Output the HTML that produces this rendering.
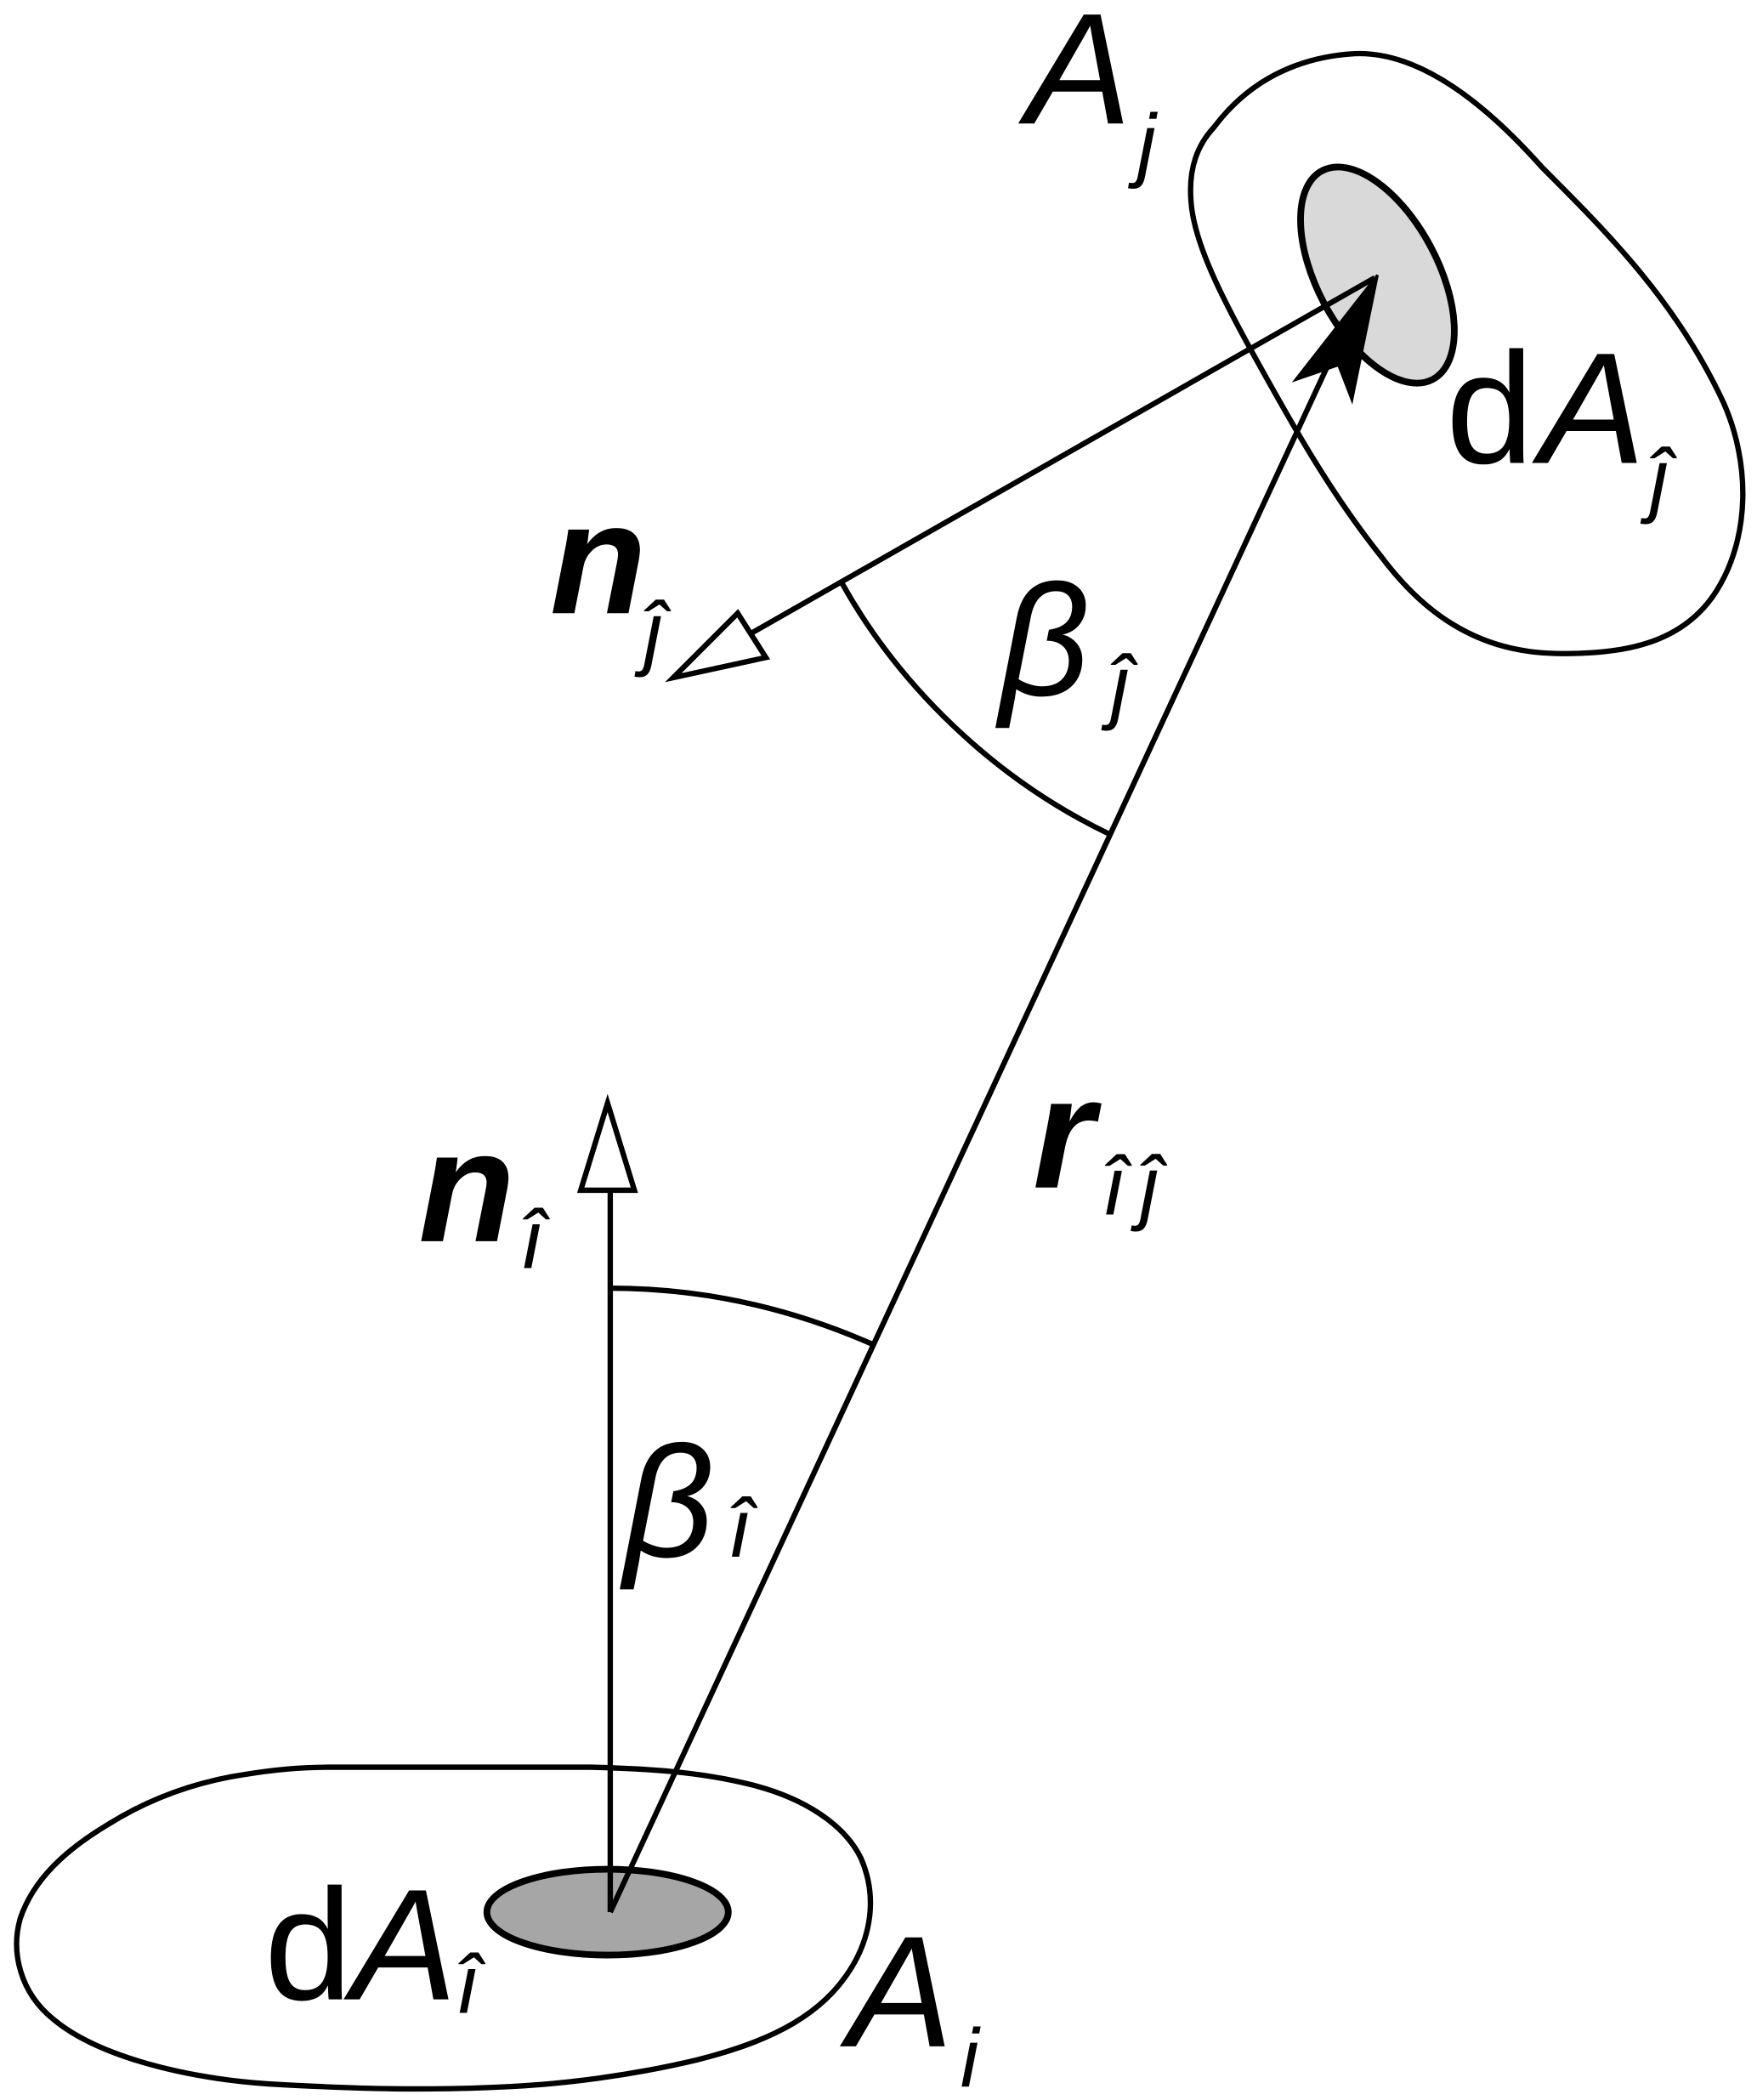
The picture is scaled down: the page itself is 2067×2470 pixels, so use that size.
<!DOCTYPE html>
<html><head><meta charset="utf-8"><style>
html,body{margin:0;padding:0;background:#fff}
svg{display:block}
text{font-family:"Liberation Sans","DejaVu Sans",sans-serif;font-style:italic;fill:#000}
</style></head><body>
<svg width="2067" height="2470" viewBox="0 0 1310 1565" preserveAspectRatio="none" xmlns="http://www.w3.org/2000/svg">
<g fill="none" stroke="#000" stroke-width="4" stroke-linejoin="round">
<!-- A_j blob -->
<path d="M905,95 C935,55 975,42 1010,40 C1060,38 1110,80 1150,125 C1200,175 1250,225 1285,300 C1305,345 1305,400 1280,440 C1255,480 1210,488 1160,487 C1100,486 1060,455 1030,415 C990,365 960,310 935,265 C910,220 890,180 888,150 C886,125 893,108 905,95 Z"/>
<!-- A_i blob -->
<path d="M245,1317 L440,1317 C480,1318 520,1320 560,1330 C600,1340 630,1360 642,1385 C655,1415 650,1450 625,1480 C600,1510 560,1525 520,1535 C470,1547 420,1553 380,1555 C320,1558 270,1557 200,1553 C130,1548 70,1530 40,1505 C15,1485 8,1455 15,1430 C25,1400 50,1378 80,1360 C115,1338 150,1327 185,1322 C210,1318 230,1317 245,1317 Z"/>
</g>
<!-- dA_j ellipse -->
<ellipse cx="1027" cy="205" rx="45" ry="88" transform="rotate(-28 1027 205)" fill="#d9d9d9" stroke="#000" stroke-width="5"/>
<!-- dA_i ellipse -->
<ellipse cx="453" cy="1425" rx="90" ry="32" fill="#a6a6a6" stroke="#000" stroke-width="5"/>
<g stroke="#000" stroke-width="4" fill="none">
<!-- n_j line -->
<line x1="1025" y1="207" x2="560" y2="472"/>
<!-- r line -->
<line x1="455" y1="1425" x2="1005" y2="240"/>
<!-- n_i line -->
<line x1="455" y1="1425" x2="455" y2="885"/>
<!-- arcs -->
<path d="M628,435 C670,510 740,580 828,622"/>
<path d="M455,960 C525,960 590,975 651,1002"/>
</g>
<!-- open arrowheads -->
<polygon points="502,505 550,457 571,490" fill="#fff" stroke="#000" stroke-width="4" stroke-linejoin="miter"/>
<polygon points="453,822 433,887 473,887" fill="#fff" stroke="#000" stroke-width="4" stroke-linejoin="miter"/>
<!-- solid arrowhead -->
<polygon points="1027,205 1008,298 998,272 966,283" fill="#000" stroke="#000" stroke-width="2"/>
<!-- labels -->
<text x="765" y="92" font-size="118">A</text>
<text x="848" y="128" font-size="62">j</text>
<text x="1078" y="345" font-size="118" style="font-style:normal">d</text>
<text x="1148" y="345" font-size="118">A</text>
<text x="1230" y="378" font-size="62">ĵ</text>
<text x="410" y="457" font-size="118" font-weight="bold">n</text>
<text x="480" y="492" font-size="62">ĵ</text>
<text x="745" y="518" font-size="118">β</text>
<text x="828" y="532" font-size="62">ĵ</text>
<text x="312" y="925" font-size="118" font-weight="bold">n</text>
<text x="388" y="945" font-size="62">î</text>
<text x="770" y="885" font-size="118" font-weight="bold">r</text>
<text x="822" y="905" font-size="62">î</text>
<text x="850" y="905" font-size="62">ĵ</text>
<text x="465" y="1160" font-size="118">β</text>
<text x="543" y="1160" font-size="62">î</text>
<text x="197" y="1490" font-size="118" style="font-style:normal">d</text>
<text x="262" y="1490" font-size="118">A</text>
<text x="340" y="1500" font-size="62">î</text>
<text x="632" y="1525" font-size="118">A</text>
<text x="716" y="1555" font-size="62">i</text>
</svg>
</body></html>
